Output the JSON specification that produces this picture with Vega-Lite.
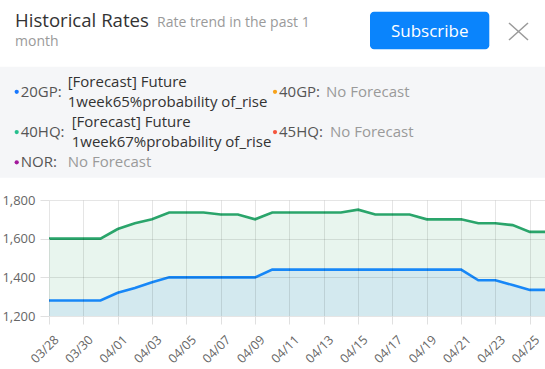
{
  "$schema": "https://vega.github.io/schema/vega-lite/v6.json",
  "padding": 0,
  "autosize": {"type": "pad"},
  "background": "white",
  "bounds": "flush",
  "spacing": 22,
  "config": {
    "font": "Open Sans",
    "view": {"stroke": null}
  },
  "datasets": {
    "legend": [
      {"series": "20GP", "key": "20GP:", "value": "[Forecast] Future\n1week65%probability of_rise", "status": "forecast", "col": 0, "line": 0.5},
      {"series": "40GP", "key": "40GP:", "value": "No Forecast", "status": "none", "col": 1, "line": 0.5},
      {"series": "40HQ", "key": "40HQ:", "value": "[Forecast] Future\n1week67%probability of_rise", "status": "forecast", "col": 0, "line": 2.5},
      {"series": "45HQ", "key": "45HQ:", "value": "No Forecast", "status": "none", "col": 1, "line": 2.5},
      {"series": "NOR", "key": "NOR:", "value": "No Forecast", "status": "none", "col": 0, "line": 4}
    ],
    "rates": [
      {"date": "2025-03-28T00:00:00", "type": "40HQ", "rate": 1600}, {"date": "2025-03-28T00:00:00", "type": "20GP", "rate": 1280},
      {"date": "2025-03-29T00:00:00", "type": "40HQ", "rate": 1600}, {"date": "2025-03-29T00:00:00", "type": "20GP", "rate": 1280},
      {"date": "2025-03-30T00:00:00", "type": "40HQ", "rate": 1600}, {"date": "2025-03-30T00:00:00", "type": "20GP", "rate": 1280},
      {"date": "2025-03-31T00:00:00", "type": "40HQ", "rate": 1600}, {"date": "2025-03-31T00:00:00", "type": "20GP", "rate": 1280},
      {"date": "2025-04-01T00:00:00", "type": "40HQ", "rate": 1650}, {"date": "2025-04-01T00:00:00", "type": "20GP", "rate": 1320},
      {"date": "2025-04-02T00:00:00", "type": "40HQ", "rate": 1680}, {"date": "2025-04-02T00:00:00", "type": "20GP", "rate": 1345},
      {"date": "2025-04-03T00:00:00", "type": "40HQ", "rate": 1700}, {"date": "2025-04-03T00:00:00", "type": "20GP", "rate": 1375},
      {"date": "2025-04-04T00:00:00", "type": "40HQ", "rate": 1735}, {"date": "2025-04-04T00:00:00", "type": "20GP", "rate": 1400},
      {"date": "2025-04-05T00:00:00", "type": "40HQ", "rate": 1735}, {"date": "2025-04-05T00:00:00", "type": "20GP", "rate": 1400},
      {"date": "2025-04-06T00:00:00", "type": "40HQ", "rate": 1735}, {"date": "2025-04-06T00:00:00", "type": "20GP", "rate": 1400},
      {"date": "2025-04-07T00:00:00", "type": "40HQ", "rate": 1725}, {"date": "2025-04-07T00:00:00", "type": "20GP", "rate": 1400},
      {"date": "2025-04-08T00:00:00", "type": "40HQ", "rate": 1725}, {"date": "2025-04-08T00:00:00", "type": "20GP", "rate": 1400},
      {"date": "2025-04-09T00:00:00", "type": "40HQ", "rate": 1700}, {"date": "2025-04-09T00:00:00", "type": "20GP", "rate": 1400},
      {"date": "2025-04-10T00:00:00", "type": "40HQ", "rate": 1735}, {"date": "2025-04-10T00:00:00", "type": "20GP", "rate": 1440},
      {"date": "2025-04-11T00:00:00", "type": "40HQ", "rate": 1735}, {"date": "2025-04-11T00:00:00", "type": "20GP", "rate": 1440},
      {"date": "2025-04-12T00:00:00", "type": "40HQ", "rate": 1735}, {"date": "2025-04-12T00:00:00", "type": "20GP", "rate": 1440},
      {"date": "2025-04-13T00:00:00", "type": "40HQ", "rate": 1735}, {"date": "2025-04-13T00:00:00", "type": "20GP", "rate": 1440},
      {"date": "2025-04-14T00:00:00", "type": "40HQ", "rate": 1735}, {"date": "2025-04-14T00:00:00", "type": "20GP", "rate": 1440},
      {"date": "2025-04-15T00:00:00", "type": "40HQ", "rate": 1750}, {"date": "2025-04-15T00:00:00", "type": "20GP", "rate": 1440},
      {"date": "2025-04-16T00:00:00", "type": "40HQ", "rate": 1725}, {"date": "2025-04-16T00:00:00", "type": "20GP", "rate": 1440},
      {"date": "2025-04-17T00:00:00", "type": "40HQ", "rate": 1725}, {"date": "2025-04-17T00:00:00", "type": "20GP", "rate": 1440},
      {"date": "2025-04-18T00:00:00", "type": "40HQ", "rate": 1725}, {"date": "2025-04-18T00:00:00", "type": "20GP", "rate": 1440},
      {"date": "2025-04-19T00:00:00", "type": "40HQ", "rate": 1700}, {"date": "2025-04-19T00:00:00", "type": "20GP", "rate": 1440},
      {"date": "2025-04-20T00:00:00", "type": "40HQ", "rate": 1700}, {"date": "2025-04-20T00:00:00", "type": "20GP", "rate": 1440},
      {"date": "2025-04-21T00:00:00", "type": "40HQ", "rate": 1700}, {"date": "2025-04-21T00:00:00", "type": "20GP", "rate": 1440},
      {"date": "2025-04-22T00:00:00", "type": "40HQ", "rate": 1680}, {"date": "2025-04-22T00:00:00", "type": "20GP", "rate": 1385},
      {"date": "2025-04-23T00:00:00", "type": "40HQ", "rate": 1680}, {"date": "2025-04-23T00:00:00", "type": "20GP", "rate": 1385},
      {"date": "2025-04-24T00:00:00", "type": "40HQ", "rate": 1670}, {"date": "2025-04-24T00:00:00", "type": "20GP", "rate": 1360},
      {"date": "2025-04-25T00:00:00", "type": "40HQ", "rate": 1635}, {"date": "2025-04-25T00:00:00", "type": "20GP", "rate": 1335},
      {"date": "2025-04-26T00:00:00", "type": "40HQ", "rate": 1635}, {"date": "2025-04-26T00:00:00", "type": "20GP", "rate": 1335}
    ]
  },
  "vconcat": [
    {
      "width": 496,
      "height": 178,
      "layer": [
        {
          "data": {"values": [{}]},
          "mark": {"type": "rect", "fill": "#f5f6f8"},
          "encoding": {"x": {"value": -49}, "x2": {"value": 496}, "y": {"value": 66.7}, "y2": {"value": 177.7}}
        },
        {
          "data": {"values": [{}]},
          "mark": {"type": "text", "align": "left", "baseline": "alphabetic", "fontSize": 18.6, "fill": "#333333", "text": "Historical Rates"},
          "encoding": {"x": {"value": -34}, "y": {"value": 26.7}}
        },
        {
          "data": {"values": [{}]},
          "mark": {"type": "text", "align": "left", "baseline": "alphabetic", "fontSize": 14, "fill": "#9a9a9a", "text": "Rate trend in the past 1"},
          "encoding": {"x": {"value": 108}, "y": {"value": 26.7}}
        },
        {
          "data": {"values": [{}]},
          "mark": {"type": "text", "align": "left", "baseline": "alphabetic", "fontSize": 14, "fill": "#9a9a9a", "text": "month"},
          "encoding": {"x": {"value": -34}, "y": {"value": 45.7}}
        },
        {
          "data": {"values": [{}]},
          "mark": {"type": "rect", "fill": "#0a84fc", "cornerRadius": 4},
          "encoding": {"x": {"value": 321}, "x2": {"value": 440.3}, "y": {"value": 11.7}, "y2": {"value": 49.3}}
        },
        {
          "data": {"values": [{}]},
          "mark": {"type": "text", "align": "center", "baseline": "alphabetic", "fontSize": 17, "fill": "#ffffff", "text": "Subscribe"},
          "encoding": {"x": {"value": 380.7}, "y": {"value": 36.7}}
        },
        {
          "data": {"values": [{}]},
          "mark": {"type": "rule", "stroke": "#9a9a9a", "strokeWidth": 1.5},
          "encoding": {"x": {"value": 460}, "x2": {"value": 479}, "y": {"value": 23}, "y2": {"value": 40}}
        },
        {
          "data": {"values": [{}]},
          "mark": {"type": "rule", "stroke": "#9a9a9a", "strokeWidth": 1.5},
          "encoding": {"x": {"value": 460}, "x2": {"value": 479}, "y": {"value": 40}, "y2": {"value": 23}}
        },
        {
          "data": {"name": "legend"},
          "mark": {"type": "point", "filled": true, "size": 18, "opacity": 1},
          "encoding": {
            "x": {"field": "col", "type": "quantitative", "scale": {"domain": [0, 1], "range": [-32.3, 226]}, "axis": null},
            "y": {"field": "line", "type": "quantitative", "scale": {"domain": [0, 4], "range": [81.7, 162.3]}, "axis": null},
            "color": {"field": "series", "type": "nominal", "scale": {"domain": ["20GP", "40GP", "40HQ", "45HQ", "NOR"], "range": ["#1677ff", "#f7a21b", "#26bf8e", "#f5553d", "#a3189c"]}, "legend": null}
          }
        },
        {
          "data": {"name": "legend"},
          "mark": {"type": "text", "align": "left", "baseline": "middle", "dx": 4, "fontSize": 15, "fill": "#555555"},
          "encoding": {
            "x": {"field": "col", "type": "quantitative", "scale": {"domain": [0, 1], "range": [-32.3, 226]}, "axis": null},
            "y": {"field": "line", "type": "quantitative", "scale": {"domain": [0, 4], "range": [81.7, 162.3]}, "axis": null},
            "text": {"field": "key", "type": "nominal"}
          }
        },
        {
          "data": {"name": "legend"},
          "mark": {"type": "text", "align": "left", "baseline": "middle", "dx": {"expr": "indexof(datum.key, 'HQ') >= 0 ? 55 : 51"}, "dy": {"expr": "indexof(datum.value, '\\n') >= 0 ? -10.1 : 0"}, "fontSize": 15, "lineBreak": "\n", "lineHeight": 20.2},
          "encoding": {
            "x": {"field": "col", "type": "quantitative", "scale": {"domain": [0, 1], "range": [-32.3, 226]}, "axis": null},
            "y": {"field": "line", "type": "quantitative", "scale": {"domain": [0, 4], "range": [81.7, 162.3]}, "axis": null},
            "text": {"field": "value", "type": "nominal"},
            "fill": {"field": "status", "type": "nominal", "scale": {"domain": ["forecast", "none"], "range": ["#333333", "#9a9a9a"]}, "legend": null}
          }
        }
      ]
    },
    {
      "width": 498,
      "height": 116,
      "data": {"name": "rates"},
      "encoding": {
        "x": {
          "field": "date",
          "type": "temporal",
          "scale": {"domain": [{"year": 2025, "month": 3, "date": 28}, {"year": 2025, "month": 4, "date": 26}]},
          "axis": {
            "title": null,
            "format": "%m/%d",
            "values": [
              {"year": 2025, "month": 3, "date": 28}, {"year": 2025, "month": 3, "date": 30},
              {"year": 2025, "month": 4, "date": 1}, {"year": 2025, "month": 4, "date": 3},
              {"year": 2025, "month": 4, "date": 5}, {"year": 2025, "month": 4, "date": 7},
              {"year": 2025, "month": 4, "date": 9}, {"year": 2025, "month": 4, "date": 11},
              {"year": 2025, "month": 4, "date": 13}, {"year": 2025, "month": 4, "date": 15},
              {"year": 2025, "month": 4, "date": 17}, {"year": 2025, "month": 4, "date": 19},
              {"year": 2025, "month": 4, "date": 21}, {"year": 2025, "month": 4, "date": 23},
              {"year": 2025, "month": 4, "date": 25}
            ],
            "labelAngle": -45,
            "labelFontSize": 12.5,
            "labelColor": "#666666",
            "labelOverlap": false,
            "labelFlush": false,
            "labelBound": false,
            "labelPadding": 9,
            "labelOffset": 3,
            "tickSize": 8,
            "tickColor": "#e0e0e0",
            "domain": false,
            "grid": true,
            "gridColor": "#000000",
            "gridOpacity": 0.1,
            "zindex": 1
          }
        },
        "y": {
          "field": "rate",
          "type": "quantitative",
          "stack": null,
          "scale": {"domain": [1200, 1800], "zero": false, "nice": false},
          "axis": {
            "title": null,
            "tickCount": 4,
            "format": ",.0f",
            "labelFontSize": 13,
            "labelColor": "#666666",
            "labelPadding": 5,
            "labelOverlap": false,
            "tickSize": 9,
            "tickColor": "#e0e0e0",
            "domain": false,
            "grid": true,
            "gridColor": "#000000",
            "gridOpacity": 0.1,
            "zindex": 1
          }
        }
      },
      "layer": [
        {
          "transform": [{"filter": "datum.type == '40HQ'"}],
          "mark": {"type": "area", "fill": "#e8f5ee", "opacity": 1},
          "encoding": {"y2": {"datum": 1200}}
        },
        {
          "transform": [{"filter": "datum.type == '20GP'"}],
          "mark": {"type": "area", "fill": "#d3e9ef", "opacity": 1},
          "encoding": {"y2": {"datum": 1200}}
        },
        {
          "transform": [{"filter": "datum.type == '40HQ'"}],
          "mark": {"type": "line", "stroke": "#2aa56b", "strokeWidth": 2.6},
          "encoding": {}
        },
        {
          "transform": [{"filter": "datum.type == '20GP'"}],
          "mark": {"type": "line", "stroke": "#1787f7", "strokeWidth": 2.6},
          "encoding": {}
        }
      ]
    }
  ]
}
